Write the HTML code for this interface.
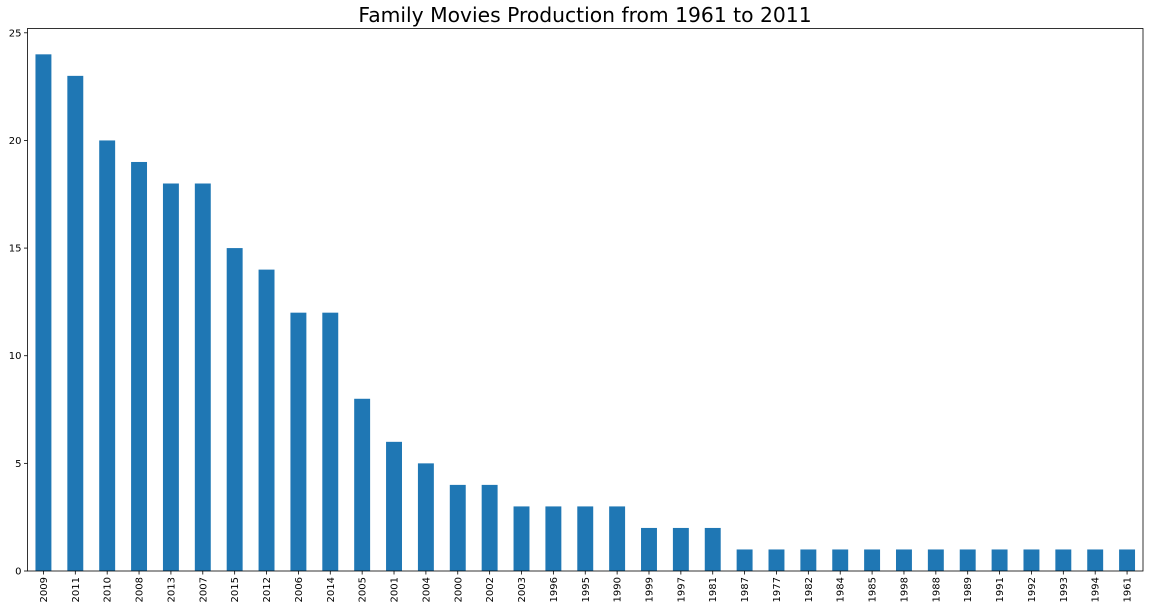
<!DOCTYPE html>
<html><head><meta charset="utf-8"><style>
body{margin:0;background:#fff;}
svg{display:block;font-family:"DejaVu Sans","Liberation Sans",sans-serif;}
</style></head><body>
<svg id="chart" width="1150" height="611" xmlns="http://www.w3.org/2000/svg">
<text x="585" y="22" text-anchor="middle" font-size="20.3" fill="#000">Family Movies Production from 1961 to 2011</text>
<g id="bars"></g><g id="xt"></g><g id="yt"></g>
<rect x="27.5" y="28.5" width="1115.5" height="542.5" fill="none" stroke="#000" stroke-width="0.8"/>
</svg>
<script>
const categories=["2009","2011","2010","2008","2013","2007","2015","2012","2006","2014","2005","2001","2004","2000","2002","2003","1996","1995","1990","1999","1997","1981","1987","1977","1982","1984","1985","1998","1988","1989","1991","1992","1993","1994","1961"];
const values=[24,23,20,19,18,18,15,14,12,12,8,6,5,4,4,3,3,3,3,2,2,2,1,1,1,1,1,1,1,1,1,1,1,1,1];
const yTicks=[0,5,10,15,20,25];
const L=27.5,R=1143,T=28.5,B=571,yMax=25.2;
const NS="http://www.w3.org/2000/svg";
const slot=(R-L)/categories.length;
const x=i=>L+slot*(i+0.5);
const y=v=>B-(v/yMax)*(B-T);
function mk(t,a,p){const e=document.createElementNS(NS,t);for(const k in a)e.setAttribute(k,a[k]);p.appendChild(e);return e;}
const bars=document.getElementById('bars'),xt=document.getElementById('xt'),yt=document.getElementById('yt');
values.forEach((v,i)=>{
const r=mk('rect',{x:x(i)-slot/4,y:y(v),width:slot/2,height:B-y(v),fill:'#1f77b4'},bars);


});
categories.forEach((c,i)=>{
const tk=mk('line',{x1:x(i),x2:x(i),y1:B,y2:B+3.5,stroke:'#000','stroke-width':0.8},xt);


const t=mk('text',{transform:`translate(${x(i)+3.5},${B+6}) rotate(-90)`,'text-anchor':'end','font-size':10,fill:'#000'},xt);
t.textContent=c;


});
yTicks.forEach(v=>{
const tk=mk('line',{x1:L-3.5,x2:L,y1:y(v),y2:y(v),stroke:'#000','stroke-width':0.8},yt);


const t=mk('text',{x:L-6,y:y(v)+3.5,'text-anchor':'end','font-size':10,fill:'#000'},yt);
t.textContent=v;


});
</script>
</body></html>
